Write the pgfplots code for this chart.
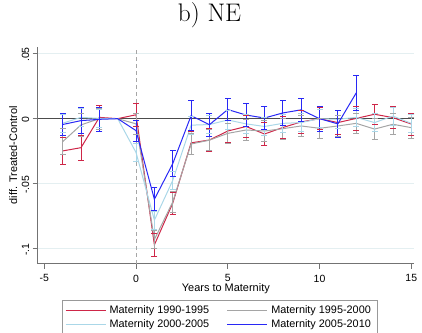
\documentclass[border=0pt]{standalone}
\usepackage{fontspec}
\setsansfont{Liberation Sans}
\usepackage{pgfplots}
\pgfplotsset{compat=1.18}
\usepackage{pgfplotstable}
\usetikzlibrary{plotmarks}

\definecolor{cred}{RGB}{206,38,72}
\definecolor{cgray}{RGB}{165,165,165}
\definecolor{clblue}{RGB}{170,215,232}
\definecolor{cblue}{RGB}{40,40,245}
\definecolor{gridc}{RGB}{228,239,241}

\pgfplotstableread{
x y e
-4 -0.0248 0.0102
-3 -0.0223 0.0098
-2 0.0010 0.0095
-1 0 0
0 0.0030 0.0090
1 -0.0970 0.0085
2 -0.0650 0.0085
3 -0.0186 0.0086
4 -0.0164 0.0087
5 -0.0095 0.0085
6 -0.0060 0.0085
7 -0.0118 0.0088
8 -0.0068 0.0085
9 -0.0025 0.0085
10 0.0000 0.0085
11 -0.0030 0.0090
12 0.0002 0.0090
13 0.0034 0.0078
14 0.0008 0.0085
15 -0.0041 0.0085
}\redtab

\pgfplotstableread{
x y e
-4 -0.0177 0.0100
-3 -0.0048 0.0085
-2 0.0000 0.0080
-1 0 0
0 -0.0040 0.0080
1 -0.0930 0.0070
2 -0.0640 0.0080
3 -0.0195 0.0080
4 -0.0165 0.0080
5 -0.0113 0.0080
6 -0.0087 0.0080
7 -0.0095 0.0080
8 -0.0077 0.0080
9 -0.0056 0.0080
10 -0.0074 0.0080
11 -0.0056 0.0080
12 -0.0036 0.0080
13 -0.0080 0.0080
14 -0.0043 0.0080
15 -0.0069 0.0080
}\graytab

\pgfplotstableread{
x y e
-4 -0.0035 0.0070
-3 0.0010 0.0070
-2 0.0002 0.0070
-1 0 0
0 -0.0260 0.0070
1 -0.0780 0.0070
2 -0.0475 0.0070
3 -0.0050 0.0070
4 -0.0045 0.0070
5 -0.0010 0.0070
6 -0.0040 0.0070
7 -0.0060 0.0070
8 -0.0036 0.0070
9 -0.0030 0.0070
10 0.0000 0.0070
11 -0.0005 0.0070
12 0.0010 0.0070
13 -0.0030 0.0070
14 0.0020 0.0070
15 -0.0036 0.0070
}\lbluetab

\pgfplotstableread{
x y e
-4 -0.0045 0.0085
-3 -0.0015 0.0100
-2 -0.0005 0.0090
-1 0 0
0 -0.0092 0.0080
1 -0.0620 0.0088
2 -0.0346 0.0100
3 0.0023 0.0115
4 -0.0046 0.0090
5 0.0070 0.0085
6 0.0028 0.0088
7 0.0005 0.0089
8 0.0044 0.0093
9 0.0068 0.0088
10 0.0000 0.0095
11 -0.0040 0.0107
12 0.0198 0.0133
}\bluetab

\pgfplotsset{
  ebar/.style={forget plot, draw=none, mark=none, skip coords between index={3}{4},
    error bars/.cd, y dir=both, y explicit, error mark=none,
    error bar style={draw=#1, line width=0.75bp, solid}},
  ecap/.style={forget plot, #1, only marks, mark=-, mark size=3bp,
    mark options={draw=#1, line width=0.75bp, solid}, skip coords between index={3}{4}},
}

\begin{document}
\begin{tikzpicture}
\useasboundingbox (-37.7bp,-69.3bp) rectangle (384.3bp,263.7bp);
\begin{axis}[
  scale only axis, width=376.3bp, height=216.7bp,
  xmin=-5.36, xmax=15.15, ymin=-0.1115, ymax=0.0551,
  axis lines*=left,
  axis line style={black!55, line width=0.8bp, -},
  xtick={-5,0,5,10,15}, xticklabels={-5,0,5,10,15},
  ytick={-0.1,-0.05,0,0.05}, yticklabels={-.1,-.05,0,.05},
  tick align=outside, major tick length=5bp,
  tick style={black!55, line width=0.8bp},
  minor tick num=0,
  ymajorgrids, grid style={gridc, line width=0.8bp},
  ticklabel style={font=\sffamily\fontsize{10.5}{12}\selectfont},
  xticklabel style={yshift=-2.5bp},
  yticklabel style={rotate=90, anchor=south, xshift=-1bp},
  xlabel={Years to Maternity},
  ylabel={diff. Treated-Control},
  label style={font=\sffamily\fontsize{11}{13}\selectfont},
  xlabel style={at={(axis description cs:0.5,-0.128)}, anchor=base},
  ylabel style={at={(axis description cs:-0.055,0.5)}, anchor=base, rotate=0},
  title={b) NE},
  title style={at={(axis description cs:0.4566,1.089)}, anchor=base,
    font=\rmfamily\fontsize{25.5}{30}\selectfont},
  legend columns=2,
  legend cell align=left,
  legend style={at={(axis description cs:0.0638,-0.1675)}, anchor=north west,
    draw=black!40, line width=0.7bp, inner xsep=3bp, inner ysep=2.5bp,
    font=\sffamily\fontsize{10.9}{13}\selectfont,
    nodes={inner ysep=2.5bp, inner xsep=3.6bp},
    /tikz/column 2/.style={column sep=13.8bp}},
  legend image code/.code={\draw[#1] (0bp,0bp) -- (40bp,0bp);},
  clip=false,
]
% zero line and vertical reference
\draw[black!70, line width=1.5bp] (axis cs:-5.36,0) -- (axis cs:15.15,0);
\draw[black!35, line width=0.9bp, dash pattern=on 4bp off 3bp] (axis cs:0,-0.1115) -- (axis cs:0,0.0551);

% lines
\addplot[cred, line width=1.0bp, mark=none] table[x=x,y=y] {\redtab};
\addlegendentry{Maternity 1990-1995}
\addplot[cgray, line width=1.0bp, mark=none] table[x=x,y=y] {\graytab};
\addlegendentry{Maternity 1995-2000}
\addplot[clblue, line width=1.0bp, mark=none] table[x=x,y=y] {\lbluetab};
\addlegendentry{Maternity 2000-2005}
\addplot[cblue, line width=1.0bp, mark=none] table[x=x,y=y] {\bluetab};
\addlegendentry{Maternity 2005-2010}

% error bars and caps
\addplot[ebar=cred] table[x=x,y=y,y error=e] {\redtab};
\addplot[ecap=cred] table[x=x,y expr=\thisrow{y}+\thisrow{e}] {\redtab};
\addplot[ecap=cred] table[x=x,y expr=\thisrow{y}-\thisrow{e}] {\redtab};

\addplot[ebar=cgray] table[x=x,y=y,y error=e] {\graytab};
\addplot[ecap=cgray] table[x=x,y expr=\thisrow{y}+\thisrow{e}] {\graytab};
\addplot[ecap=cgray] table[x=x,y expr=\thisrow{y}-\thisrow{e}] {\graytab};

\addplot[ebar=clblue] table[x=x,y=y,y error=e] {\lbluetab};
\addplot[ecap=clblue] table[x=x,y expr=\thisrow{y}+\thisrow{e}] {\lbluetab};
\addplot[ecap=clblue] table[x=x,y expr=\thisrow{y}-\thisrow{e}] {\lbluetab};

\addplot[ebar=cblue] table[x=x,y=y,y error=e] {\bluetab};
\addplot[ecap=cblue] table[x=x,y expr=\thisrow{y}+\thisrow{e}] {\bluetab};
\addplot[ecap=cblue] table[x=x,y expr=\thisrow{y}-\thisrow{e}] {\bluetab};
\end{axis}
\end{tikzpicture}
\end{document}
